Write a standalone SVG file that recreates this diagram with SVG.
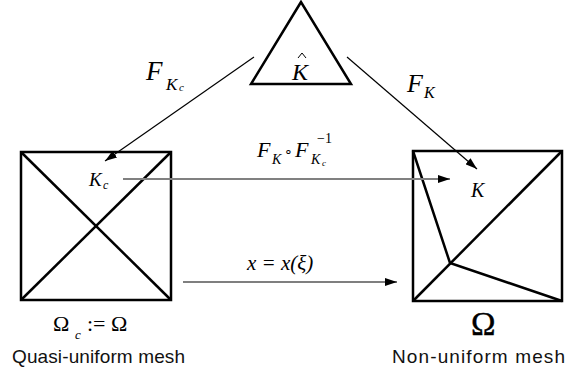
<svg xmlns="http://www.w3.org/2000/svg" width="567" height="370" viewBox="0 0 567 370">
<style>
.shape{fill:none;stroke:#000;stroke-width:2.5;stroke-linejoin:miter}
.conn{fill:none;stroke:#000;stroke-width:1.2}
.grey{fill:none;stroke:#808080;stroke-width:2}
</style>
<defs>
<marker id="ah" markerUnits="userSpaceOnUse" markerWidth="12" markerHeight="8" refX="12" refY="4" orient="auto">
<path d="M0,0 L12,4 L0,8 z" fill="#000"/>
</marker>
</defs>
<rect width="567" height="370" fill="#fff"/>
<g id="ref-triangle">
<polygon class="shape" points="301,2 251,84 351,84"/>
<text font-family="'Liberation Serif','Times New Roman',serif" font-style="italic" x="292" y="80" font-size="24">K</text>
<path d="M298,58 L302,53 L306,58" fill="none" stroke="#000" stroke-width="1"/>
</g>
<g id="quasi-uniform">
<rect class="shape" x="21" y="152" width="150" height="148"/>
<line class="shape" x1="21" y1="152" x2="171" y2="300"/>
<line class="shape" x1="171" y1="152" x2="21" y2="300"/>
<g font-family="'Liberation Serif','Times New Roman',serif">
<text font-style="italic" x="89" y="186" font-size="19">K</text>
<text font-style="italic" x="103" y="189" font-size="12">c</text>
<text x="53" y="331" font-size="22">Ω</text>
<text font-style="italic" x="75" y="339" font-size="13">c</text>
<text x="87" y="331" font-size="22">:= Ω</text>
</g>
<text font-family="'Liberation Sans',Arial,Helvetica,sans-serif" x="12" y="363" font-size="19" textLength="173" lengthAdjust="spacing" fill="#111">Quasi-uniform mesh</text>
</g>
<g id="non-uniform">
<rect class="shape" x="413" y="151" width="149" height="150"/>
<line class="shape" x1="413" y1="301" x2="562" y2="151"/>
<polyline class="shape" points="413,151 450,263 562,301"/>
<text font-family="'Liberation Serif','Times New Roman',serif" font-style="italic" x="471" y="197" font-size="20">K</text>
<text font-family="'Liberation Serif','Times New Roman',serif" x="471" y="335" font-size="33" stroke="#000" stroke-width="0.4">Ω</text>
<text font-family="'Liberation Sans',Arial,Helvetica,sans-serif" x="392" y="363" font-size="19" textLength="173" lengthAdjust="spacing" fill="#111">Non-uniform mesh</text>
</g>
<g id="connectors">
<line class="conn" x1="254" y1="57" x2="105" y2="161" marker-end="url(#ah)"/>
<line class="conn" x1="347" y1="57" x2="477" y2="169" marker-end="url(#ah)"/>
<line class="grey" x1="123" y1="179" x2="450" y2="179" marker-end="url(#ah)"/>
<line class="conn" x1="183" y1="282" x2="397" y2="282" marker-end="url(#ah)"/>
</g>
<g id="labels" font-family="'Liberation Serif','Times New Roman',serif" font-style="italic">
<text x="146" y="80" font-size="27">F</text>
<text x="166" y="90" font-size="17">K</text>
<text x="179" y="91" font-size="11">c</text>
<text x="407" y="92" font-size="26">F</text>
<text x="424" y="98" font-size="16">K</text>
<text x="257" y="157" font-size="22">F</text>
<text x="272" y="164" font-size="14">K</text>
<text x="284" y="156" font-size="14" font-style="normal">∘</text>
<text x="295" y="157" font-size="22">F</text>
<text x="317" y="143" font-size="14" font-style="normal">−1</text>
<text x="311" y="164" font-size="14">K</text>
<text x="322" y="166" font-size="9">c</text>
<text x="247" y="270" font-size="21">x = x(ξ)</text>
</g>
</svg>
